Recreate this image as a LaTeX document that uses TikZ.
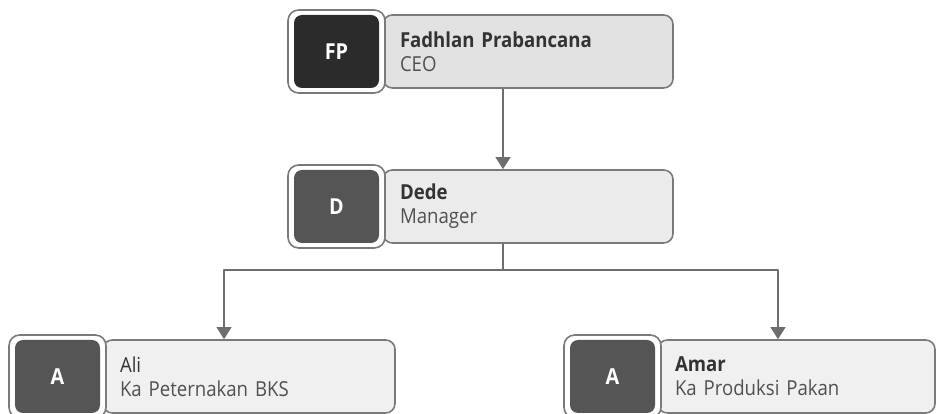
\documentclass[tikz,border=0pt]{standalone}
\usepackage{fontspec}
\setmainfont[FakeStretch=0.9]{Open Sans}
\usetikzlibrary{arrows.meta}
\definecolor{boxline}{HTML}{7A7A7A}
\definecolor{linegray}{HTML}{6E6E6E}
\definecolor{nametxt}{HTML}{333333}
\definecolor{subtxt}{HTML}{505050}
\definecolor{topfill}{HTML}{E2E2E2}
\definecolor{midfill}{HTML}{EBEBEB}
\definecolor{lowfill}{HTML}{F0F0F0}
\definecolor{darkbadge}{HTML}{2B2B2B}
\definecolor{greybadge}{HTML}{555555}
\begin{document}
\begin{tikzpicture}[x=0.75pt,y=0.75pt,>={Triangle[width=11pt,length=9pt]},
  font=\fontsize{15.5}{18}\selectfont, line join=round,
  info/.style={draw=boxline, line width=1.2pt, rounded corners=7pt, minimum height=54.75pt,
    inner xsep=12.75pt, inner ysep=0pt, text width=#1, align=left, text=subtxt},
  ring/.style={draw=boxline, fill=white, line width=1.2pt, rounded corners=8pt,
    minimum width=72.75pt, minimum height=62.25pt, inner sep=0pt},
  badge/.style={fill=#1, rounded corners=6pt, minimum width=63.75pt, minimum height=54.75pt,
    inner sep=0pt, text=white, font=\fontsize{16.5}{18}\selectfont\bfseries},
  conn/.style={draw=linegray, line width=1.5pt}]
\useasboundingbox (0,0) rectangle (936,414);
% top: CEO
\node[info=192pt, fill=topfill] (fpinfo) at (528,362.5) {\textcolor{nametxt}{\textbf{Fadhlan Prabancana}}\\CEO};
\node[ring] (fpring) at (336.5,362.5) {};
\node[badge=darkbadge] (fp) at (fpring) {FP};
% middle: manager
\node[info=192pt, fill=midfill] (dinfo) at (528,207.5) {\textcolor{nametxt}{\textbf{Dede}}\\Manager};
\node[ring] (dring) at (336.5,207.5) {};
\node[badge=greybadge] (d) at (dring) {D};
% bottom row
\node[info=193.5pt, fill=lowfill] (aliinfo) at (249,37.5) {\textcolor{nametxt}{Ali}\\Ka Peternakan BKS};
\node[ring] (aliring) at (57.5,37.5) {};
\node[badge=greybadge] (ali) at (aliring) {A};
\node[info=182.25pt, fill=lowfill] (amarinfo) at (796.5,37.5) {\textcolor{nametxt}{\textbf{Amar}}\\Ka Produksi Pakan};
\node[ring] (amarring) at (612.5,37.5) {};
\node[badge=greybadge] (amar) at (amarring) {A};
% connectors
\coordinate (trunk) at (503,144);
\coordinate (lbr) at (224,144);
\coordinate (rbr) at (778,144);
\draw[conn,->] (fpinfo.south -| trunk) -- (dinfo.north -| trunk);
\draw[conn] (dinfo.south -| trunk) -- (trunk);
\draw[conn,->] (trunk) -- (lbr) -- (aliinfo.north -| lbr);
\draw[conn,->] (trunk) -- (rbr) -- (amarinfo.north -| rbr);
\end{tikzpicture}
\end{document}
